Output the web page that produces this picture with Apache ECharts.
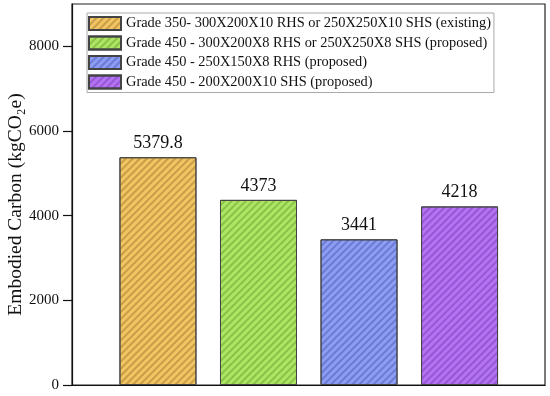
<!DOCTYPE html>
<html><head><meta charset="utf-8">
<script src="https://cdn.jsdelivr.net/npm/echarts@6/dist/echarts.min.js"></script>
<style>html,body{margin:0;padding:0;background:#fff}#c{width:550px;height:396px}</style>
</head><body><div id="c"></div>
<script>
const seriesNames = [
  'Grade 350- 300X200X10 RHS or 250X250X10 SHS (existing)',
  'Grade 450 - 300X200X8 RHS or 250X250X8 SHS (proposed)',
  'Grade 450 - 250X150X8 RHS (proposed)',
  'Grade 450 - 200X200X10 SHS (proposed)'
];
const positions = [1, 2, 3, 4];
const values = [5379.8, 4373, 3441, 4218];
const labels = ['5379.8', '4373', '3441', '4218'];
const yTicks = [0, 2000, 4000, 6000, 8000];
const colors = ['#f2c462', '#aee563', '#8c9df2', '#b374f2'];
const stripeColors = ['rgba(150,110,40,0.45)', 'rgba(90,150,40,0.45)', 'rgba(60,70,170,0.4)', 'rgba(110,40,170,0.4)'];

const font = 'Liberation Serif';
const chart = echarts.init(document.getElementById('c'));
chart.setOption({
  animation: false,
  grid: {left: 72, right: 5, top: 4, bottom: 11, show: true, borderColor: '#222', borderWidth: 1.2, containLabel: false, outerBoundsMode: 'none'},
  legend: {
    orient: 'vertical', left: 87, top: 13, itemWidth: 32, itemHeight: 13, itemGap: 4.5, icon: 'rect',
    padding: [3, 3, 3, 1], borderColor: '#aaa', borderWidth: 1,
    textStyle: {fontFamily: font, fontSize: 14.4, color: '#111'},
    data: seriesNames
  },
  xAxis: {
    type: 'value', min: 0.145, max: 4.85,
    axisLine: {show: true, lineStyle: {color: '#111', width: 1.2}},
    axisTick: {show: false}, axisLabel: {show: false}, splitLine: {show: false}
  },
  yAxis: {
    type: 'value', min: 0, max: 9000, interval: 2000,
    name: 'Embodied Carbon (kgCO₂e)', nameLocation: 'middle', nameGap: 46, nameMoveOverlap: false,
    nameTextStyle: {fontFamily: font, fontSize: 19.5, color: '#111', padding: [0, 20, 0, 0]},
    axisLine: {show: true, lineStyle: {color: '#111', width: 1.2}},
    axisTick: {show: true, inside: false, length: 9, customValues: yTicks, lineStyle: {color: '#111', width: 1.2}},
    axisLabel: {fontFamily: font, fontSize: 15, color: '#111', margin: 13,
      formatter: v => (yTicks.indexOf(v) >= 0 ? String(v) : '')},
    splitLine: {show: false}
  },
  series: seriesNames.map((n, i) => ({
    name: n, type: 'bar', barWidth: 77, barGap: '-100%',
    data: [[positions[i], values[i]]],
    itemStyle: {
      color: colors[i], borderColor: '#444', borderWidth: 1,
      decal: {symbol: 'rect', symbolSize: 1, dashArrayX: [1, 0], dashArrayY: [2, 2.5], rotation: -Math.PI / 4, color: stripeColors[i]}
    },
    label: {show: true, position: 'top', distance: 5, fontFamily: font, fontSize: 18, color: '#111', formatter: () => labels[i]}
  }))
});
</script></body></html>
